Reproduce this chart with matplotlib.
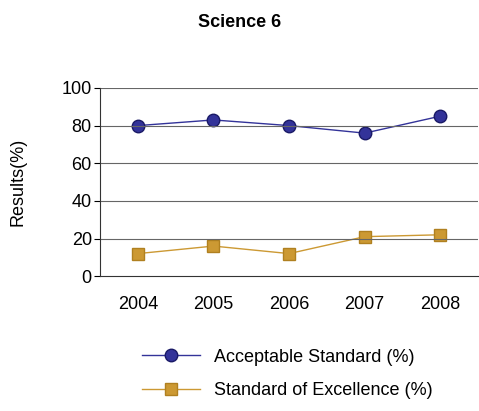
import matplotlib
matplotlib.use("Agg")
import matplotlib.pyplot as plt

plt.rcParams['font.family'] = ['Liberation Sans', 'DejaVu Sans']

years = ["2004", "2005", "2006", "2007", "2008"]
acceptable = [80, 83, 80, 76, 85]
excellence = [12, 16, 12, 21, 22]

fig = plt.figure(figsize=(4.79, 4.11), dpi=100)
ax = fig.add_axes([0.209, 0.328, 0.789, 0.458])

x = list(range(len(years)))
l1, = ax.plot(x, acceptable, color="#333399", marker="o", markersize=9,
              markerfacecolor="#333399", markeredgecolor="#1a1a66", lw=1,
              label="Acceptable Standard (%)")
l2, = ax.plot(x, excellence, color="#cc9933", marker="s", markersize=9,
              markerfacecolor="#cc9933", markeredgecolor="#b08020", lw=1,
              label="Standard of Excellence (%)")

ax.set_xlim(-0.5, len(years) - 0.5)
ax.set_ylim(0, 100)
ax.set_yticks(range(0, 101, 20))
ax.set_xticks(x)
ax.set_xticklabels(years)
ax.tick_params(labelsize=13, length=0, pad=14)
ax.tick_params(axis='y', length=4, pad=2, direction='out')
for yv in range(20, 101, 20):
    ax.axhline(yv, color="#666666", lw=0.8)
ax.spines['top'].set_visible(False)
ax.spines['right'].set_visible(False)
ax.spines['left'].set_color("#333333")
ax.spines['bottom'].set_color("#333333")
ax.set_ylabel("Results(%)", fontsize=13)
ax.yaxis.set_label_coords(-0.195, 0.5)

fig.text(0.5, 0.935, "Science 6", ha="center", fontsize=13, fontweight="bold")
fig.legend(handles=[l1, l2], loc="lower center", bbox_to_anchor=(0.6, -0.01),
           frameon=False, fontsize=13, handlelength=3.2, labelspacing=0.9)

fig.savefig("out.png", dpi=100)
